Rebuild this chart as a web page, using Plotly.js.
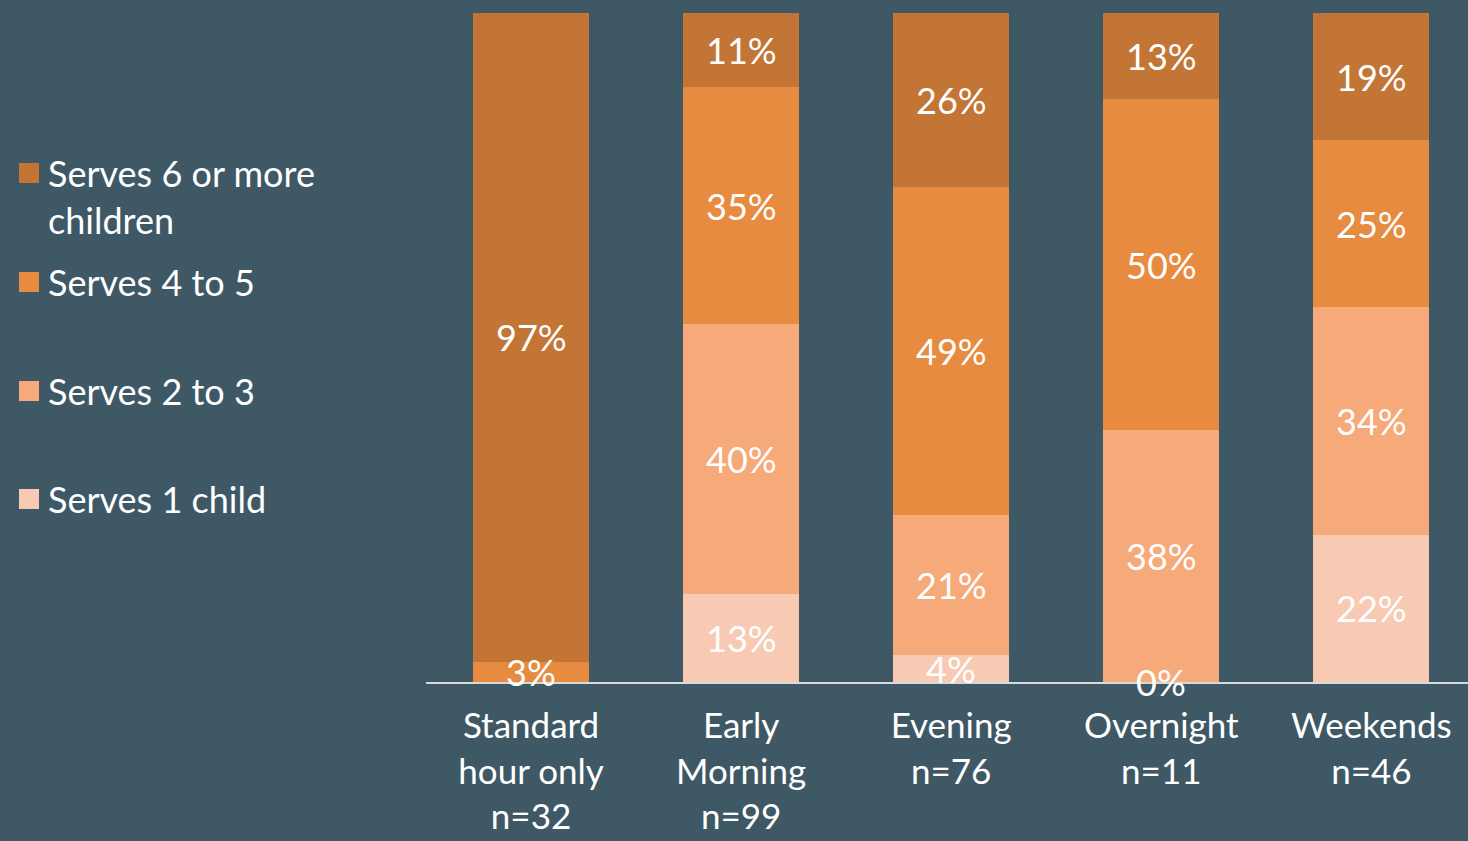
<!DOCTYPE html>
<html>
<head>
<meta charset="utf-8">
<script src="https://cdn.plot.ly/plotly-3.0.1.min.js"></script>
<style>
  html, body { margin: 0; padding: 0; background: #3e5866; }
  #chart { width: 1468px; height: 841px; }
</style>
</head>
<body>
<div id="chart"></div>
<script>
// ---- Data ----
const categories = [
  "Standard<br>hour only<br>n=32",
  "Early<br>Morning<br>n=99",
  "Evening<br>n=76",
  "Overnight<br>n=11",
  "Weekends<br>n=46"
];
const seriesNames = ["Serves 1 child", "Serves 2 to 3", "Serves 4 to 5", "Serves 6 or more<br>children"];
// null = no response in that group (no label drawn)
const serves1 = [null, 13, 4, 0, 22];
const serves2to3 = [null, 40, 21, 38, 34];
const serves4to5 = [3, 35, 49, 50, 25];
const serves6plus = [97, 11, 26, 13, 19];
const seriesColors = ["#f8cab4", "#f7aa79", "#e78b41", "#c27535"];

const seriesValues = [serves1, serves2to3, serves4to5, serves6plus];

// ---- Layout constants (pixels) ----
const W = 1468, H = 841;
const ML = 426, MR = 0, MT = 13, MB = 159;
const plotW = W - ML - MR, plotH = H - MT - MB;
const toPaperX = px => (px - ML) / plotW;
const toPaperY = py => (H - MB - py) / plotH;

const font = "Lato, 'Open Sans', sans-serif";
const white = "#ffffff";

const traces = seriesValues.map((vals, i) => ({
  type: "bar",
  name: seriesNames[i],
  x: categories,
  y: vals,
  marker: { color: seriesColors[i], line: { width: 0 } },
  hoverinfo: "skip",
  showlegend: false
}));

// Value labels, centred on each segment (positions from the data, in the
// normalised 0-100 stack that barnorm produces)
const annotations = [];
categories.forEach((cat, j) => {
  const total = seriesValues.reduce((s, arr) => s + (arr[j] || 0), 0);
  let cum = 0;
  seriesValues.forEach(arr => {
    const v = arr[j];
    if (v !== null && v !== undefined) {
      annotations.push({
        x: cat, y: (cum + v / 2) / total * 100, xref: "x", yref: "y",
        text: v + "%", showarrow: false,
        xanchor: "center", yanchor: "middle",
        font: { family: font, size: 36, color: white }
      });
      cum += v;
    }
  });
});

// Custom legend (top item first)
const legendY = [173, 282, 391, 499];
const shapes = [];
const legendOrder = [3, 2, 1, 0];
legendOrder.forEach((si, k) => {
  const cy = legendY[k];
  shapes.push({
    type: "rect", xref: "paper", yref: "paper",
    x0: toPaperX(19), x1: toPaperX(39),
    y0: toPaperY(cy + 10), y1: toPaperY(cy - 10),
    fillcolor: seriesColors[si], line: { width: 0 }
  });
  const twoLine = seriesNames[si].indexOf("<br>") >= 0;
  annotations.push({
    xref: "paper", yref: "paper",
    x: toPaperX(46), y: toPaperY(twoLine ? cy + 23 : cy),
    xanchor: "left", yanchor: "middle", align: "left",
    text: seriesNames[si], showarrow: false,
    font: { family: font, size: 36, color: white }
  });
});

const layout = {
  width: W, height: H,
  margin: { l: ML, r: MR, t: MT, b: MB, pad: 0 },
  paper_bgcolor: "#3e5866",
  plot_bgcolor: "#3e5866",
  barmode: "stack",
  barnorm: "percent",
  bargap: 0.448,
  showlegend: false,
  xaxis: {
    type: "category",
    range: [-0.5, 4.46],
    showgrid: false, zeroline: false,
    showline: true, linecolor: "#d9d9d9", linewidth: 2,
    ticks: "", ticklabelstandoff: 12,
    tickfont: { family: font, size: 35, color: white },
    fixedrange: true
  },
  yaxis: {
    range: [0, 100],
    visible: false,
    fixedrange: true
  },
  shapes: shapes,
  annotations: annotations
};

Plotly.newPlot("chart", traces, layout, { displayModeBar: false, staticPlot: true });
</script>
</body>
</html>
